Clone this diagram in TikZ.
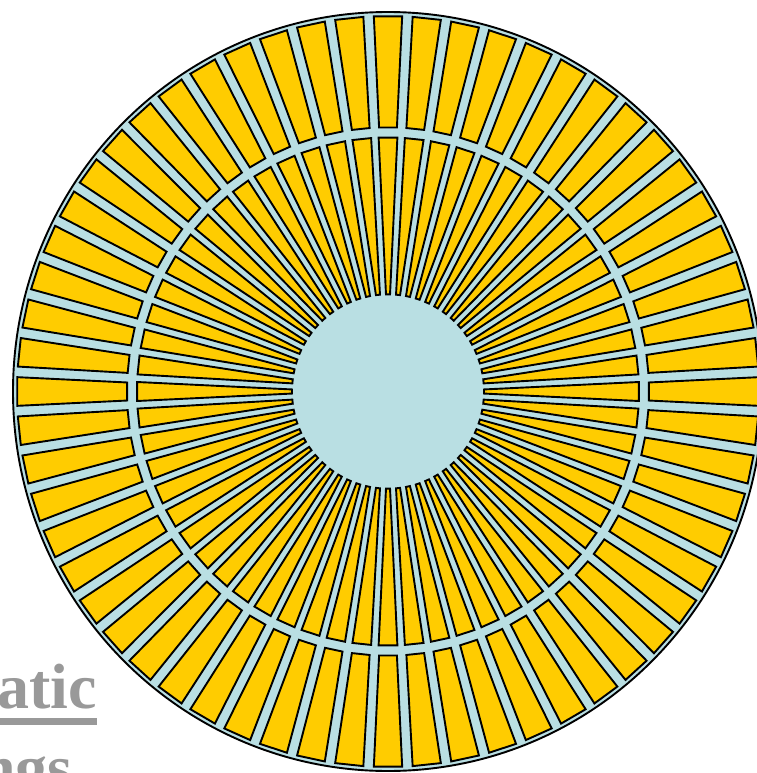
\documentclass[tikz,border=0pt]{standalone}
\usepackage{fontspec}
\setmainfont{Liberation Serif}
\usepackage{xcolor}
\definecolor{vanefill}{HTML}{FFCC00}
\definecolor{slotfill}{HTML}{B9DFE3}
\definecolor{titlegray}{HTML}{999999}
\tikzset{
  vane/.style ={draw=black, fill=vanefill, line width=1.9pt, line join=miter},
  disc/.style ={draw=black, fill=slotfill, line width=1.9pt},
  title/.style={text=titlegray, font=\fontsize{64}{77}\selectfont\bfseries, inner sep=0pt},
  uline/.style={draw=titlegray, line width=7pt},
}

\begin{document}
\begin{tikzpicture}[x=1pt, y=1.012pt]
  \useasboundingbox (0pt,0pt) rectangle (756pt,-773pt);
  % title, cut by the page edge
  \node[title, anchor=base east] (atic) at (97pt,-708pt) {atic};
  \node[title, anchor=base east] (ngs) at (73pt,-789pt) {ngs};
  \draw[uline] ([yshift=-13pt]atic.base west) -- ([yshift=-13pt]atic.base east);
  \begin{scope}[shift={(388pt,-391.5pt)}]
    \draw[disc] (0,0) circle (375);
    % two rings of 60 vanes, slots of nearly constant width
    \foreach \ra/\rb/\ga/\gb in {96/251/6/7.5, 261/371/9.5/10.5} {
      \pgfmathsetmacro\ha{3-asin(\ga/2/\ra)}
      \pgfmathsetmacro\hb{3-asin(\gb/2/\rb)}
      \foreach \a in {0,6,...,354}
        \draw[vane] (\a-\ha:\ra) -- (\a+\ha:\ra) -- (\a+\hb:\rb) -- (\a-\hb:\rb) -- cycle;
    }
  \end{scope}
\end{tikzpicture}
\end{document}
